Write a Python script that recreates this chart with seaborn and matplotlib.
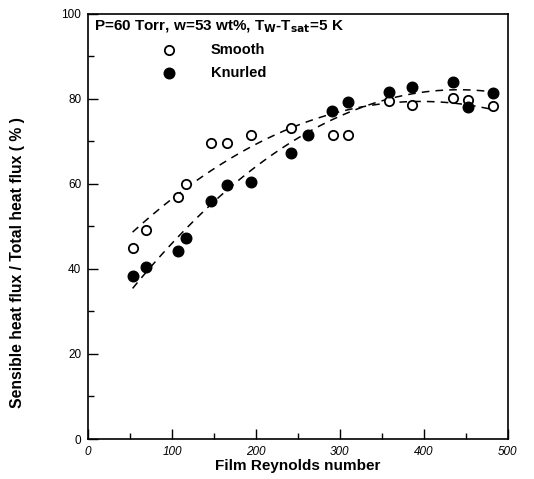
import numpy as np
import pandas as pd
import matplotlib
matplotlib.use('Agg')
import matplotlib.pyplot as plt
import seaborn as sns

re_smooth = [53, 69, 107, 117, 146, 165, 194, 242, 292, 310, 359, 386, 435, 453, 482]
q_smooth = [44.9, 49.2, 56.9, 60.0, 69.7, 69.7, 71.5, 73.1, 71.5, 71.5, 79.6, 78.6, 80.3, 79.8, 78.4]

re_knurled = [53, 69, 107, 117, 146, 165, 194, 242, 262, 291, 310, 359, 386, 435, 453, 482]
q_knurled = [38.4, 40.4, 44.2, 47.2, 56.1, 59.8, 60.5, 67.2, 71.5, 77.2, 79.2, 81.7, 82.7, 83.9, 78.0, 81.5]

df_s = pd.DataFrame({'Re': re_smooth, 'Q': q_smooth})
df_k = pd.DataFrame({'Re': re_knurled, 'Q': q_knurled})

sns.set_style('ticks')
plt.rcParams['font.family'] = ['Liberation Sans', 'DejaVu Sans']
plt.rcParams.update({'text.color': 'black', 'axes.labelcolor': 'black',
                     'xtick.color': 'black', 'ytick.color': 'black'})

fig = plt.figure(figsize=(5.34, 4.79), dpi=100)
ax = fig.add_axes([0.165, 0.0835, 0.786, 0.8875])

# Regressionskurven (2. Ordnung), gestrichelt
line_kw = dict(color='black', lw=1.1, ls=(0, (5, 4)))
sns.regplot(data=df_s, x='Re', y='Q', order=2, ci=None, scatter=False,
            line_kws=line_kw, ax=ax)
sns.regplot(data=df_k, x='Re', y='Q', order=2, ci=None, scatter=False,
            line_kws=line_kw, ax=ax)

# Messpunkte
sns.scatterplot(data=df_s, x='Re', y='Q', marker='o', s=45, facecolor='white',
                edgecolor='black', linewidth=1.3, label='Smooth', ax=ax, zorder=3)
sns.scatterplot(data=df_k, x='Re', y='Q', marker='o', s=58, color='black',
                edgecolor='black', linewidth=1.0, label='Knurled', ax=ax, zorder=3)

ax.set_xlim(0, 500)
ax.set_ylim(0, 100)
ax.set_xticks(np.arange(0, 501, 100))
ax.set_xticks(np.arange(50, 500, 100), minor=True)
ax.set_yticks(np.arange(0, 101, 20))
ax.set_yticks(np.arange(10, 100, 20), minor=True)
ax.tick_params(which='both', direction='in', color='black', labelcolor='black', width=1.0)
ax.tick_params(which='major', length=7, labelsize=8.5, pad=5)
ax.tick_params(which='minor', length=4)
for lab in ax.get_xticklabels():
    lab.set_style('italic')
for sp in ax.spines.values():
    sp.set_linewidth(1.2)
    sp.set_color('black')

ax.set_xlabel('Film Reynolds number', fontsize=11, fontweight='bold', labelpad=1,
              color='black')
ax.set_ylabel('Sensible heat flux / Total heat flux ( % )', fontsize=11.3,
              fontweight='bold', color='black')
ax.yaxis.set_label_coords(-0.15, 0.414)

ax.text(0.015, 0.988, r'P=60 Torr, w=53 wt%, T$_\mathbf{W}$-T$_\mathbf{sat}$=5 K',
        transform=ax.transAxes, fontsize=11, fontweight='bold', va='top', ha='left',
        color='black')

leg = ax.legend(loc='upper left', bbox_to_anchor=(0.143, 0.963), frameon=False,
                handletextpad=2.4, labelspacing=0.62, handlelength=1.0,
                prop={'weight': 'bold', 'size': 10.5})
for t in leg.get_texts():
    t.set_color('black')

fig.savefig('out.png', dpi=100)
